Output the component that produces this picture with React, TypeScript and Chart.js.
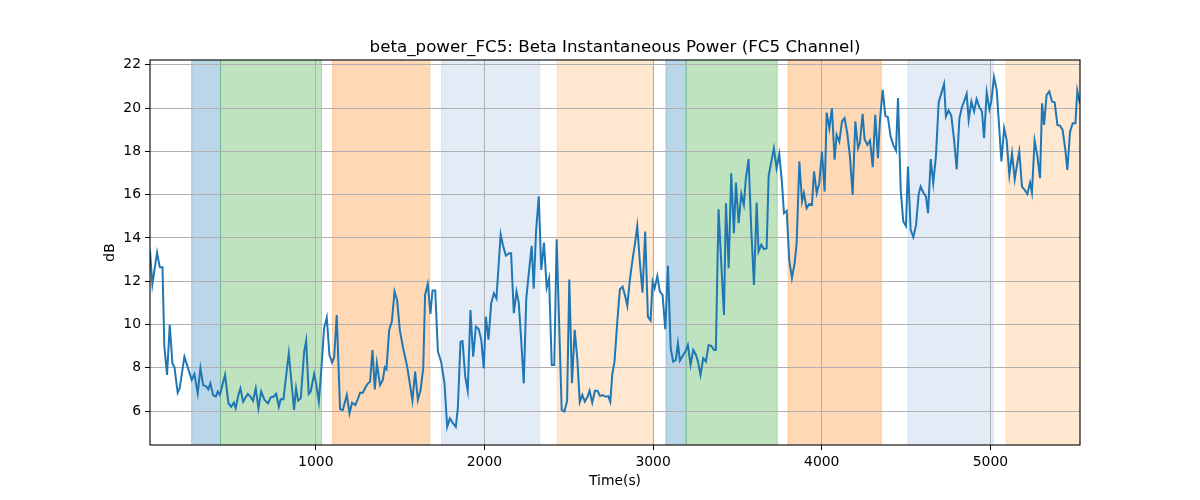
import { useEffect, useRef } from "react";
import { Chart, registerables } from "chart.js";

Chart.register(...registerables);

// sample times (s) and beta power (dB)
const TIMES = [
  17, 31, 59, 75, 91, 102, 118, 134, 150, 162,
  181, 193, 221, 249, 264, 280, 300, 316, 332, 351,
  363, 375, 391, 407, 419, 431, 462, 482, 498, 514,
  525, 541, 553, 569, 581, 597, 612, 628, 644, 660,
  676, 696, 717, 733, 749, 765, 781, 792, 808, 840,
  871, 883, 895, 911, 931, 943, 958, 970, 990, 1002,
  1018, 1034, 1049, 1065, 1081, 1097, 1109, 1124, 1144, 1160,
  1184, 1200, 1215, 1235, 1251, 1263, 1279, 1295, 1310, 1322,
  1336, 1350, 1362, 1381, 1397, 1409, 1419, 1435, 1451, 1467,
  1482, 1498, 1518, 1542, 1573, 1589, 1605, 1621, 1637, 1648,
  1664, 1680, 1692, 1708, 1724, 1743, 1763, 1779, 1795, 1814,
  1830, 1842, 1858, 1870, 1886, 1901, 1917, 1933, 1949, 1965,
  1981, 1996, 2008, 2024, 2040, 2056, 2071, 2096, 2110, 2127,
  2147, 2158, 2174, 2190, 2203, 2217, 2233, 2248, 2264, 2280,
  2292, 2306, 2322, 2337, 2353, 2369, 2383, 2399, 2414, 2428,
  2458, 2474, 2490, 2503, 2519, 2535, 2551, 2565, 2580, 2595,
  2611, 2623, 2639, 2655, 2670, 2686, 2702, 2718, 2734, 2746,
  2758, 2771, 2787, 2803, 2819, 2835, 2847, 2862, 2878, 2894,
  2906, 2922, 2937, 2953, 2969, 2985, 2997, 3009, 3025, 3040,
  3056, 3072, 3088, 3104, 3119, 3135, 3147, 3159, 3175, 3191,
  3206, 3222, 3238, 3254, 3266, 3281, 3297, 3313, 3329, 3345,
  3361, 3372, 3388, 3404, 3420, 3432, 3448, 3463, 3479, 3491,
  3507, 3523, 3538, 3550, 3566, 3582, 3598, 3614, 3625, 3641,
  3657, 3673, 3685, 3701, 3716, 3732, 3748, 3764, 3776, 3792,
  3807, 3823, 3839, 3851, 3867, 3883, 3894, 3910, 3926, 3942,
  3954, 3970, 3985, 4001, 4017, 4029, 4045, 4060, 4076, 4088,
  4104, 4120, 4135, 4151, 4167, 4183, 4199, 4215, 4226, 4242,
  4254, 4270, 4286, 4302, 4317, 4333, 4345, 4361, 4377, 4392,
  4408, 4424, 4440, 4452, 4468, 4483, 4499, 4511, 4527, 4543,
  4559, 4574, 4586, 4602, 4618, 4630, 4646, 4661, 4677, 4693,
  4709, 4725, 4736, 4752, 4768, 4784, 4800, 4816, 4831, 4847,
  4859, 4871, 4887, 4903, 4918, 4934, 4950, 4962, 4978, 4994,
  5005, 5021, 5037, 5049, 5065, 5081, 5096, 5112, 5128, 5144,
  5159, 5171, 5187, 5203, 5219, 5235, 5246, 5262, 5278, 5294,
  5306, 5318, 5333, 5349, 5365, 5381, 5397, 5413, 5428, 5444,
  5456, 5472, 5488, 5504, 5515, 5531,
];

const VALUES = [
  13.4, 11.85, 13.32, 12.64, 12.64, 8.98, 7.67, 9.98, 8.2, 8.02,
  6.85, 7.05, 8.51, 7.82, 7.44, 7.71, 6.82, 7.98, 7.2, 7.13,
  7.0, 7.28, 6.74, 6.67, 6.9, 6.74, 7.67, 6.36, 6.2, 6.39,
  6.13, 6.74, 7.05, 6.43, 6.59, 6.79, 6.67, 6.47, 7.05, 6.13,
  6.9, 6.51, 6.36, 6.63, 6.66, 6.79, 6.2, 6.54, 6.54, 8.67,
  6.05, 7.05, 6.48, 6.59, 8.74, 9.25, 6.79, 6.9, 7.71, 7.28,
  6.43, 8.05, 9.82, 10.32, 8.59, 8.24, 8.48, 10.44, 6.08, 6.05,
  6.74, 5.89, 6.39, 6.28, 6.59, 6.85, 6.85, 7.1, 7.28, 7.36,
  8.82, 7.0, 8.21, 7.2, 7.43, 8.02, 7.93, 9.75, 10.13, 11.52,
  11.13, 9.75, 8.9, 8.05, 6.48, 7.82, 6.51, 6.97, 7.98, 11.37,
  11.87, 10.49, 11.57, 11.57, 8.75, 8.28, 7.28, 5.27, 5.66, 5.43,
  5.27, 6.12, 9.2, 9.23, 7.59, 6.94, 10.67, 8.51, 9.9, 9.8,
  9.3, 7.97, 10.36, 9.3, 10.98, 11.44, 11.2, 14.16, 13.65, 13.18,
  13.29, 13.29, 10.52, 11.52, 11.02, 9.4, 7.28, 11.2, 12.45, 13.63,
  11.65, 14.33, 15.92, 12.52, 13.78, 11.7, 12.13, 8.13, 8.13, 13.94,
  6.05, 5.98, 6.47, 12.08, 7.28, 9.75, 8.36, 6.41, 6.74, 6.43,
  6.66, 6.94, 6.39, 6.94, 6.94, 6.69, 6.74, 6.66, 6.69, 6.43,
  7.7, 8.28, 10.06, 11.63, 11.75, 11.29, 10.86, 12.06, 12.98, 13.83,
  14.55, 12.83, 11.47, 14.29, 10.36, 10.18, 11.98, 11.67, 12.24, 11.52,
  11.37, 9.78, 12.71, 8.9, 8.28, 8.36, 9.13, 8.33, 8.54, 8.75,
  9.05, 8.13, 8.82, 8.59, 8.28, 7.67, 8.44, 8.28, 9.05, 9.01,
  8.82, 8.82, 15.32, 12.83, 10.44, 15.6, 12.6, 16.99, 14.22, 16.56,
  14.68, 16.03, 15.53, 16.76, 17.64, 14.37, 11.83, 15.63, 13.37, 13.68,
  13.48, 13.52, 16.87, 17.53, 18.14, 17.22, 17.88, 16.53, 15.14, 15.25,
  12.98, 12.14, 12.83, 13.75, 17.53, 15.68, 16.07, 15.37, 15.57, 15.53,
  17.07, 16.07, 16.53, 17.99, 16.14, 19.79, 19.07, 19.99, 17.61, 18.76,
  18.45, 19.38, 19.53, 18.84, 17.76, 15.99, 19.38, 18.14, 18.38, 19.73,
  18.56, 18.3, 18.5, 17.27, 19.69, 17.68, 19.45, 20.84, 19.64, 19.58,
  18.68, 18.3, 18.04, 20.46, 16.22, 14.76, 14.55, 17.3, 14.37, 14.03,
  14.6, 15.99, 16.37, 16.1, 15.91, 15.14, 17.64, 16.53, 17.79, 20.26,
  20.69, 21.12, 19.61, 19.89, 19.64, 18.56, 17.17, 19.53, 20.04, 20.38,
  20.66, 19.45, 20.3, 19.84, 20.41, 20.04, 19.84, 18.61, 20.72, 19.95,
  20.3, 21.43, 20.84, 19.45, 17.53, 19.07, 18.53, 16.91, 17.91, 16.71,
  17.45, 17.99, 16.37, 16.22, 16.03, 16.56, 16.1, 18.5, 17.79, 16.76,
  20.22, 19.22, 20.61, 20.77, 20.3, 20.26, 19.22, 19.18, 18.99, 18.07,
  17.14, 18.91, 19.3, 19.3, 20.81, 20.2,
];

// shaded phases
const SPAN_START = [264, 435, 1099, 1745, 2431, 3076, 3196, 3800, 4511, 5092];
const SPAN_END = [435, 1034, 1676, 2328, 2999, 3196, 3736, 4353, 5018, 5531];
const SPAN_KIND = ["blue", "green", "orange", "lightblue", "lightorange", "blue", "green", "orange", "lightblue", "lightorange"];

const X_TICKS = [1000, 2000, 3000, 4000, 5000];
const Y_TICKS = [6, 8, 10, 12, 14, 16, 18, 20, 22];

const SPAN_COLORS: Record<string, string> = {
  blue: "rgba(31,119,180,0.3)",
  green: "rgba(44,160,44,0.3)",
  orange: "rgba(255,127,14,0.3)",
  lightblue: "rgba(174,199,232,0.35)",
  lightorange: "rgba(255,187,120,0.35)",
};

const FONT = "DejaVu Sans";

const overlay = {
  id: "overlay",
  beforeDraw(chart: any) {
    const { ctx, chartArea, scales } = chart;
    const x = scales.x;
    ctx.save();
    ctx.beginPath();
    ctx.rect(chartArea.left, chartArea.top, chartArea.right - chartArea.left, chartArea.bottom - chartArea.top);
    ctx.clip();
    SPAN_START.forEach((s, i) => {
      const x0 = x.getPixelForValue(s);
      const x1 = x.getPixelForValue(SPAN_END[i]);
      const color = SPAN_COLORS[SPAN_KIND[i]];
      ctx.fillStyle = color;
      ctx.fillRect(x0, chartArea.top, x1 - x0, chartArea.bottom - chartArea.top);
      ctx.strokeStyle = color;
      ctx.lineWidth = 1;
      ctx.beginPath();
      ctx.moveTo(x0, chartArea.top);
      ctx.lineTo(x0, chartArea.bottom);
      ctx.moveTo(x1, chartArea.top);
      ctx.lineTo(x1, chartArea.bottom);
      ctx.stroke();
    });
    ctx.restore();
  },
  afterDraw(chart: any) {
    const { ctx, chartArea } = chart;
    ctx.save();
    ctx.strokeStyle = "#000";
    ctx.lineWidth = 1.1;
    ctx.strokeRect(chartArea.left, chartArea.top, chartArea.right - chartArea.left, chartArea.bottom - chartArea.top);
    ctx.fillStyle = "#000";
    ctx.textAlign = "center";
    const cx = (chartArea.left + chartArea.right) / 2;
    ctx.font = `16.7px "${FONT}"`;
    ctx.textBaseline = "alphabetic";
    ctx.fillText("beta_power_FC5: Beta Instantaneous Power (FC5 Channel)", cx, chartArea.top - 8);
    ctx.font = `13.9px "${FONT}"`;
    ctx.textBaseline = "middle";
    ctx.fillText("Time(s)", cx, 481);
    ctx.translate(110, (chartArea.top + chartArea.bottom) / 2);
    ctx.rotate(-Math.PI / 2);
    ctx.fillText("dB", 0, 0);
    ctx.restore();
  },
};

export default function App() {
  const canvasRef = useRef<HTMLCanvasElement | null>(null);
  useEffect(() => {
    if (!canvasRef.current) return;
    const tickStyle = {
      color: "#000",
      font: { family: FONT, size: 13.9 },
      padding: 4,
      maxRotation: 0,
      callback: (v: any) => String(v),
    };
    const gridStyle = { color: "#b0b0b0", lineWidth: 1, tickColor: "#000", tickLength: 5, tickWidth: 1 };
    const chart = new Chart(canvasRef.current, {
      type: "line",
      data: {
        datasets: [
          {
            data: TIMES.map((t, i) => ({ x: t, y: VALUES[i] })),
            borderColor: "#1f77b4",
            borderWidth: 2,
            pointRadius: 0,
            tension: 0,
            fill: false,
          },
        ],
      },
      options: {
        animation: false,
        responsive: false,
        devicePixelRatio: 1,
        layout: { padding: { left: 0, top: 60, right: 120, bottom: 0 } },
        plugins: { legend: { display: false }, tooltip: { enabled: false }, title: { display: false } },
        scales: {
          x: {
            type: "linear",
            min: TIMES[0],
            max: TIMES[TIMES.length - 1],
            afterBuildTicks: (s: any) => {
              s.ticks = X_TICKS.map((v) => ({ value: v }));
            },
            afterFit: (s: any) => {
              s.height = 55;
            },
            grid: gridStyle,
            border: { display: false },
            ticks: tickStyle,
          },
          y: {
            type: "linear",
            min: 4.43,
            max: 22.22,
            afterBuildTicks: (s: any) => {
              s.ticks = Y_TICKS.map((v) => ({ value: v }));
            },
            afterFit: (s: any) => {
              s.width = 150;
            },
            grid: gridStyle,
            border: { display: false },
            ticks: tickStyle,
          },
        },
      },
      plugins: [overlay],
    } as any);
    return () => chart.destroy();
  }, []);
  return (
    <div style={{ position: "absolute", left: 0, top: 0, width: 1200, height: 500, background: "#fff" }}>
      <canvas ref={canvasRef} width={1200} height={500} />
    </div>
  );
}
